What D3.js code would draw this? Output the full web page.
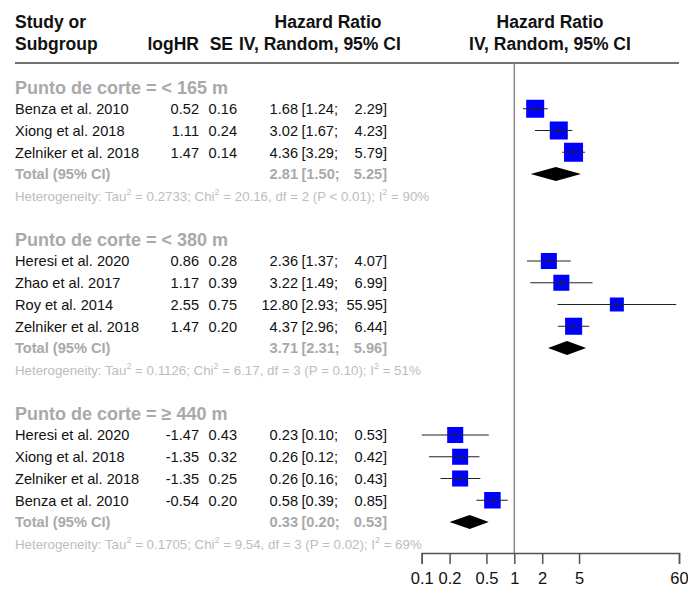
<!DOCTYPE html>
<html><head><meta charset="utf-8">
<script src="https://cdn.jsdelivr.net/npm/d3@7"></script>
<style>body{margin:0;background:#fff} svg text{font-family:"Liberation Sans",Arial,Helvetica,sans-serif}</style>
</head><body><svg id="c" width="688" height="595"></svg>
<script>
const groupLabels = ["Punto de corte = < 165 m", "Punto de corte = < 380 m", "Punto de corte = ≥ 440 m"];
const studies = ["Benza et al. 2010", "Xiong et al. 2018", "Zelniker et al. 2018",
  "Heresi et al. 2020", "Zhao et al. 2017", "Roy et al. 2014", "Zelniker et al. 2018",
  "Heresi et al. 2020", "Xiong et al. 2018", "Zelniker et al. 2018", "Benza et al. 2010"];
const studyGroup = [0, 0, 0, 1, 1, 1, 1, 2, 2, 2, 2];
const logHR = [0.52, 1.11, 1.47, 0.86, 1.17, 2.55, 1.47, -1.47, -1.35, -1.35, -0.54];
const se = [0.16, 0.24, 0.14, 0.28, 0.39, 0.75, 0.20, 0.43, 0.32, 0.25, 0.20];
const hr = [1.68, 3.02, 4.36, 2.36, 3.22, 12.80, 4.37, 0.23, 0.26, 0.26, 0.58];
const lower = [1.24, 1.67, 3.29, 1.37, 1.49, 2.93, 2.96, 0.10, 0.12, 0.16, 0.39];
const upper = [2.29, 4.23, 5.79, 4.07, 6.99, 55.95, 6.44, 0.53, 0.42, 0.43, 0.85];
const weight = [10.6, 10.6, 11.8, 8.4, 8.4, 6.4, 9.5, 8.4, 8.4, 8.4, 8.9];
const totalHR = [2.81, 3.71, 0.33];
const totalLower = [1.50, 2.31, 0.20];
const totalUpper = [5.25, 5.96, 0.53];
const tau2 = ["0.2733", "0.1126", "0.1705"];
const chi2 = ["20.16", "6.17", "9.54"];
const dfs = [2, 3, 3];
const pvals = ["P < 0.01", "P = 0.10", "P = 0.02"];
const i2 = ["90%", "51%", "69%"];
const tickValues = [0.1, 0.2, 0.5, 1, 2, 5, 60];
const tickLabels = ["0.1", "0.2", "0.5", "1", "2", "5", "60"];

// build rows
const rows = [];
let r = 0;
groupLabels.forEach((g, gi) => {
  rows.push({type: "head", r: r++, g: gi});
  studies.forEach((s, i) => { if (studyGroup[i] === gi) rows.push({type: "study", r: r++, i}); });
  rows.push({type: "total", r: r++, g: gi});
  rows.push({type: "het", r: r++, g: gi});
  r++;
});

const svg = d3.select("#c");
const y = d3.scaleLinear().domain([0, 21]).range([87, 543.75]);
const x = d3.scaleLog().domain([0.1, 60]).range([421.7, 679]);
const size = d3.scaleSqrt().domain([0, d3.max(weight)]).range([0, 19]);

const colName = 15, colLog = 199, colSE = 237, colHR = 298, colLo = 301.5, colUp = 387;
const grey = "#a9a9a9", hetGrey = "#bdbdbd";

// header
const hdr = svg.append("g").attr("font-weight", "bold").attr("font-size", 17.5).attr("fill", "#111");
hdr.append("text").attr("x", colName).attr("y", 28).text("Study or");
hdr.append("text").attr("x", colName).attr("y", 50).text("Subgroup");
hdr.append("text").attr("x", colLog).attr("y", 50).attr("text-anchor", "end").text("logHR");
hdr.append("text").attr("x", 233).attr("y", 50).attr("text-anchor", "end").text("SE");
hdr.append("text").attr("x", 328).attr("y", 28).attr("text-anchor", "middle").text("Hazard Ratio");
hdr.append("text").attr("x", 239).attr("y", 50).text("IV, Random, 95% CI");
hdr.append("text").attr("x", 550).attr("y", 28).attr("text-anchor", "middle").text("Hazard Ratio");
hdr.append("text").attr("x", 550).attr("y", 50).attr("text-anchor", "middle").text("IV, Random, 95% CI");
svg.append("line").attr("x1", 15).attr("x2", 679).attr("y1", 63).attr("y2", 63)
  .attr("stroke", "#444").attr("stroke-width", 1.5);

// reference line at 1
svg.append("line").attr("x1", x(1)).attr("x2", x(1)).attr("y1", 63).attr("y2", 553)
  .attr("stroke", "#8a8a8a").attr("stroke-width", 1.5);

const f2 = v => v.toFixed(2);
const ciText = (sel, row, h, lo, up) => {
  const cy = y(row.r) + 5.3;
  sel.append("text").attr("x", colHR).attr("y", cy).attr("text-anchor", "end").text(f2(h));
  sel.append("text").attr("x", colLo).attr("y", cy).text("[" + f2(lo) + ";");
  sel.append("text").attr("x", colUp).attr("y", cy).attr("text-anchor", "end").text(f2(up) + "]");
};

const tg = svg.append("g");
rows.forEach(row => {
  const cy = y(row.r);
  if (row.type === "head") {
    tg.append("text").attr("x", colName).attr("y", cy + 6.5).attr("font-size", 18)
      .attr("font-weight", "bold").attr("fill", grey).text(groupLabels[row.g]);
  } else if (row.type === "study") {
    const i = row.i;
    const g = tg.append("g").attr("font-size", 14.6).attr("fill", "#111");
    g.append("text").attr("x", colName).attr("y", cy + 5.3).text(studies[i]);
    g.append("text").attr("x", colLog).attr("y", cy + 5.3).attr("text-anchor", "end").text(f2(logHR[i]));
    g.append("text").attr("x", colSE).attr("y", cy + 5.3).attr("text-anchor", "end").text(f2(se[i]));
    ciText(g, row, hr[i], lower[i], upper[i]);
    const s = size(weight[i]);
    svg.append("rect").attr("x", x(hr[i]) - s / 2).attr("y", cy - s / 2)
      .attr("width", s).attr("height", s).attr("fill", "#0000ff");
    svg.append("line").attr("x1", x(lower[i])).attr("x2", x(upper[i])).attr("y1", cy).attr("y2", cy)
      .attr("stroke", "#222").attr("stroke-width", 1);
    svg.append("line").attr("x1", x(hr[i])).attr("x2", x(hr[i])).attr("y1", cy - 3).attr("y2", cy + 3)
      .attr("stroke", "#222").attr("stroke-width", 1);
  } else if (row.type === "total") {
    const gi = row.g;
    const g = tg.append("g").attr("font-size", 14.6).attr("font-weight", "bold").attr("fill", grey);
    g.append("text").attr("x", colName).attr("y", cy + 5.3).text("Total (95% CI)");
    ciText(g, row, totalHR[gi], totalLower[gi], totalUpper[gi]);
    const pts = [[x(totalLower[gi]), cy], [x(totalHR[gi]), cy - 7], [x(totalUpper[gi]), cy], [x(totalHR[gi]), cy + 7]];
    svg.append("path").attr("d", d3.line()(pts) + "Z").attr("fill", "#000");
  } else if (row.type === "het") {
    const gi = row.g;
    const t = tg.append("text").attr("x", colName).attr("y", cy + 4.8).attr("font-size", 13.3)
      .attr("fill", hetGrey).attr("xml:space", "preserve");
    const sup = () => t.append("tspan").attr("font-size", 9).attr("dy", -6).text("2");
    t.append("tspan").text("Heterogeneity: Tau");
    sup();
    t.append("tspan").attr("dy", 6).text(" = " + tau2[gi] + "; Chi");
    sup();
    t.append("tspan").attr("dy", 6).text(" = " + chi2[gi] + ", df = " + dfs[gi] + " (" + pvals[gi] + "); I");
    sup();
    t.append("tspan").attr("dy", 6).text(" = " + i2[gi]);
  }
});

// axis
const ax = svg.append("g").attr("transform", "translate(0,553)")
  .call(d3.axisBottom(x).tickValues(tickValues).tickFormat((d, i) => tickLabels[i]).tickSize(11).tickPadding(8));
ax.select(".domain").attr("stroke", "#555").attr("stroke-width", 1.5);
ax.selectAll(".tick line").attr("stroke", "#555").attr("stroke-width", 1.5);
ax.selectAll(".tick text").attr("font-size", 16.5).attr("fill", "#111")
  .attr("font-family", "'Liberation Sans', Arial, sans-serif");
</script></body></html>
